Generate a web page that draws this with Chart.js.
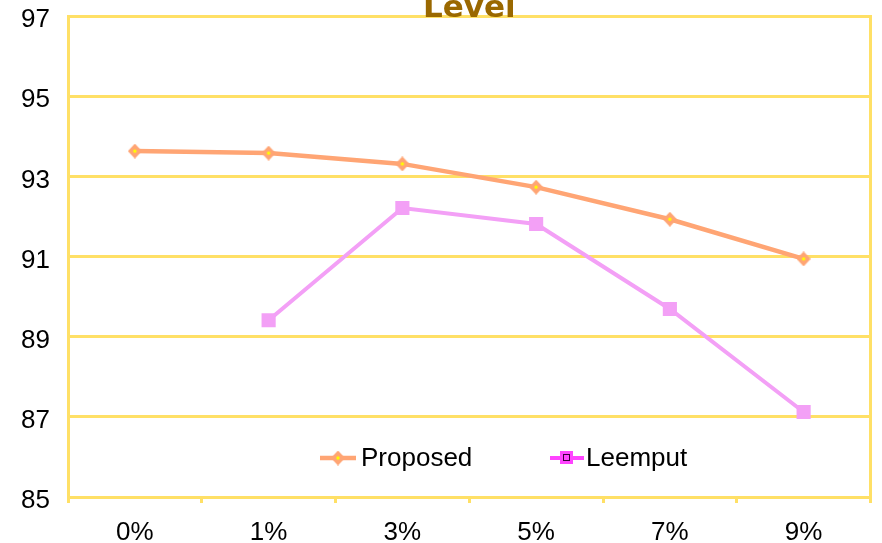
<!DOCTYPE html>
<html><head><meta charset="utf-8">
<script src="https://cdn.jsdelivr.net/npm/chart.js@4/dist/chart.umd.min.js"></script>
<style>
html,body{margin:0;padding:0;background:#fff;overflow:hidden;width:882px;height:543px}
#wrap{position:relative;width:882px;height:583px;margin-top:-40px}
</style></head><body>
<div id="wrap"><canvas id="c" width="882" height="583"></canvas></div>
<script>
// Accuracy (%) by noise level
const TITLE = 'Level';
const categories = ['0%', '1%', '3%', '5%', '7%', '9%'];
const proposed = [93.63, 93.58, 93.31, 92.73, 91.93, 90.94];
const leemput = [null, 89.41, 92.21, 91.81, 89.69, 87.12];
const seriesNames = ['Proposed', 'Leemput'];
const Y_MIN = 85, Y_MAX = 97, Y_STEP = 2;

const FONT = '"Liberation Sans", Arial, sans-serif';
const GRID = '#ffe066';
const ORANGE = '#ffa574';
const VIOLET = '#f3a0f6';
const MAGENTA = '#ff44ff';

// diamond marker with a small yellow centre
function diamondImg() {
  const c = document.createElement('canvas');
  c.width = 14; c.height = 15;
  const g = c.getContext('2d');
  g.fillStyle = ORANGE;
  g.beginPath();
  g.moveTo(7, 0); g.lineTo(14, 7.5); g.lineTo(7, 15); g.lineTo(0, 7.5);
  g.closePath(); g.fill();
  g.fillStyle = '#ffff00';
  g.beginPath(); g.arc(7, 7.5, 1.7, 0, Math.PI * 2); g.fill();
  return c;
}
const diamond = diamondImg();

// legend drawn inside the plot, near the bottom
const innerLegend = {
  id: 'innerLegend',
  afterDraw(chart) {
    const ctx = chart.ctx;
    const y = chart.chartArea.bottom - 39;
    ctx.save();
    // Proposed
    ctx.strokeStyle = ORANGE; ctx.lineWidth = 4.5;
    ctx.beginPath(); ctx.moveTo(320, y); ctx.lineTo(356, y); ctx.stroke();
    ctx.drawImage(diamond, 338 - 7, y - 7.5);
    // Leemput
    ctx.strokeStyle = MAGENTA; ctx.lineWidth = 4;
    ctx.beginPath(); ctx.moveTo(550, y); ctx.lineTo(584, y); ctx.stroke();
    ctx.fillStyle = MAGENTA;
    ctx.fillRect(560, y - 7, 13, 13);
    ctx.strokeStyle = '#3a003a'; ctx.lineWidth = 1;
    ctx.strokeRect(563.5, y - 3.5, 6, 6);
    ctx.fillStyle = '#000';
    ctx.font = '26px ' + FONT;
    ctx.textBaseline = 'middle';
    ctx.textAlign = 'left';
    ctx.fillText(seriesNames[0], 361, y + 1);
    ctx.fillText(seriesNames[1], 586, y + 1);
    ctx.restore();
  }
};

new Chart(document.getElementById('c'), {
  type: 'line',
  data: {
    labels: categories,
    datasets: [
      {
        label: seriesNames[0], data: proposed,
        borderColor: ORANGE, borderWidth: 4.5, backgroundColor: ORANGE,
        pointStyle: diamond, pointRadius: 7, pointHoverRadius: 7, tension: 0
      },
      {
        label: seriesNames[1], data: leemput,
        borderColor: VIOLET, borderWidth: 4, backgroundColor: VIOLET,
        pointStyle: 'rect', pointRadius: 10, pointHoverRadius: 10,
        pointBorderWidth: 0, tension: 0
      }
    ]
  },
  options: {
    responsive: false,
    animation: false,
    devicePixelRatio: 1,
    layout: { padding: { left: 0, right: 7, top: 0, bottom: 0 } },
    plugins: {
      legend: { display: false },
      tooltip: { enabled: false },
      title: {
        display: true, text: TITLE, fullSize: false, align: 'center',
        color: '#9a6800',
        font: { family: '"DejaVu Sans", sans-serif', weight: 'bold', size: 31, lineHeight: 1 },
        padding: { top: 33, bottom: -8 }
      }
    },
    scales: {
      x: {
        type: 'category', offset: true,
        grid: { display: true, drawOnChartArea: false, drawTicks: true, tickLength: 6, color: GRID, lineWidth: 3, offset: true },
        border: { color: GRID, width: 3 },
        ticks: { color: '#000', font: { family: FONT, size: 26 }, padding: 14, maxRotation: 0 },
        afterFit: s => { s.height = 46; }
      },
      y: {
        min: Y_MIN, max: Y_MAX,
        ticks: { stepSize: Y_STEP, color: '#000', font: { family: FONT, size: 26 }, padding: 18, labelOffset: 4 },
        grid: { color: GRID, lineWidth: 3, drawTicks: false },
        border: { color: GRID, width: 3 },
        afterFit: s => { s.width = 68; }
      },
      y2: {
        position: 'right', min: Y_MIN, max: Y_MAX,
        ticks: { display: false },
        grid: { drawOnChartArea: false, drawTicks: false },
        border: { color: GRID, width: 3 },
        afterFit: s => { s.width = 0; }
      }
    }
  },
  plugins: [innerLegend]
});
</script>
</body></html>
